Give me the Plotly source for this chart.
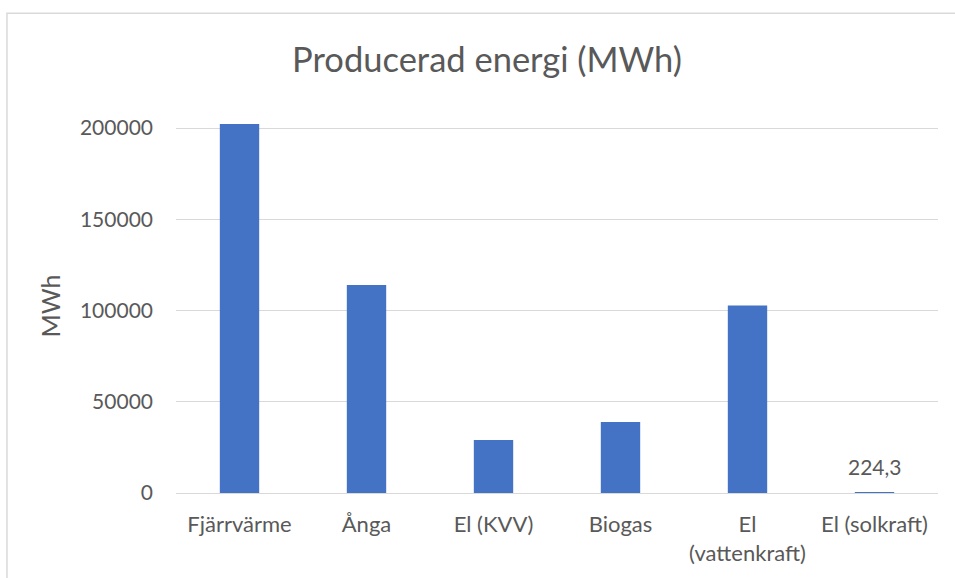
import plotly.graph_objects as go

CATEGORIES = ["Fjärrvärme", "Ånga", "El (KVV)", "Biogas", "El<br>(vattenkraft)", "El (solkraft)"]
ENERGY_MWH = [202200, 114000, 29100, 38900, 102800, 224.3]
Y_TICKS = [0, 50000, 100000, 150000, 200000]

TEXT = "#595959"
GRID = "#d9d9d9"
BAR = "#4472c4"
FONT = "Lato, Open Sans, sans-serif"

fig = go.Figure()
fig.add_trace(
    go.Bar(
        x=CATEGORIES,
        y=ENERGY_MWH,
        marker={"color": BAR, "line": {"width": 0}},
        hoverinfo="skip",
    )
)

# only the tiny solar bar carries a value label
fig.add_annotation(
    x=CATEGORIES[-1],
    y=ENERGY_MWH[-1],
    text=f"{ENERGY_MWH[-1]:.1f}".replace(".", ","),
    showarrow=False,
    yanchor="bottom",
    yshift=12,
    font={"size": 21, "color": TEXT, "family": FONT},
)

# outer chart border (cropped on the right and bottom)
fig.add_shape(
    type="rect",
    xref="paper",
    yref="paper",
    x0=-0.2218,
    x1=1.05,
    y0=-0.3,
    y1=1.283,
    line={"color": GRID, "width": 1.5},
    fillcolor="rgba(0,0,0,0)",
    layer="below",
)

fig.update_layout(
    width=955,
    height=578,
    paper_bgcolor="white",
    plot_bgcolor="white",
    font={"family": FONT, "color": TEXT, "size": 21},
    margin={"l": 176, "r": 17, "t": 119, "b": 81},
    bargap=0.69,
    showlegend=False,
    title={
        "text": "Producerad energi (MWh)",
        "x": 0.51,
        "xref": "container",
        "xanchor": "center",
        "y": 1 - 60 / 578,
        "yanchor": "middle",
        "font": {"size": 34.5, "color": TEXT, "family": FONT},
    },
)
fig.update_xaxes(
    showgrid=False,
    showline=False,
    ticks="",
    ticklabelstandoff=16,
    tickfont={"size": 22, "color": TEXT},
)
fig.update_yaxes(
    range=[0, 205000],
    tickvals=Y_TICKS,
    tickformat="d",
    showgrid=True,
    gridcolor=GRID,
    gridwidth=1.3,
    zeroline=True,
    zerolinecolor=GRID,
    zerolinewidth=1.3,
    showline=False,
    ticks="",
    ticklabelstandoff=22,
    tickfont={"size": 21, "color": TEXT},
    title={"text": "MWh", "font": {"size": 25, "color": TEXT}, "standoff": 12},
)

# drop the browser's default body margin so the figure sits at the page origin
fig.write_html(
    "out.html",
    config={"displayModeBar": False},
    post_script="document.body.style.margin='0';",
)
